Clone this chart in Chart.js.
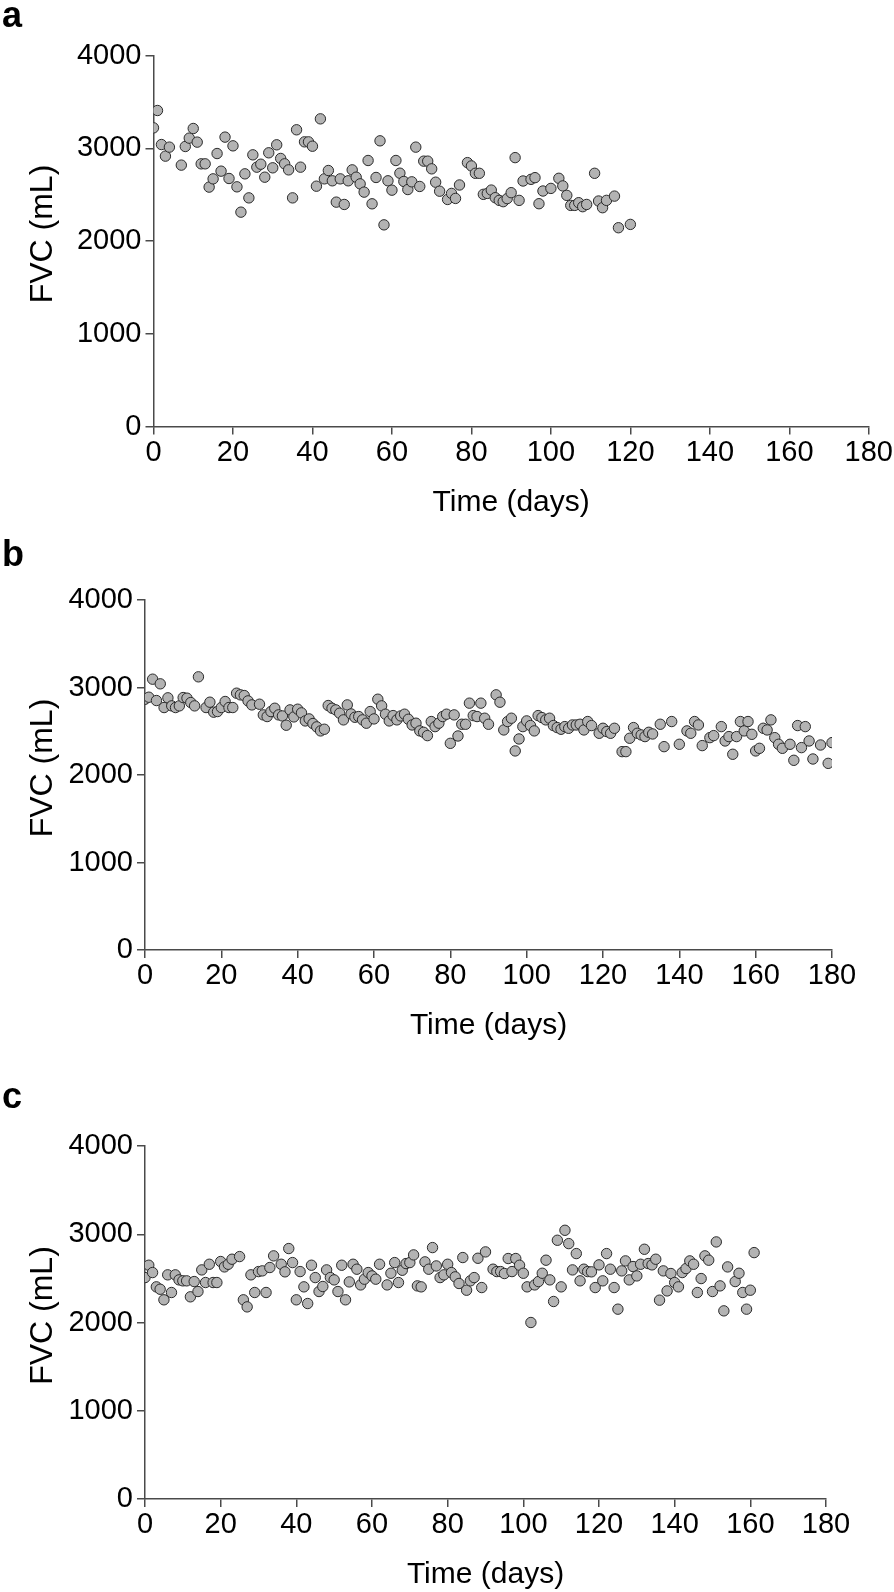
<!DOCTYPE html>
<html>
<head>
<meta charset="utf-8">
<title>FVC over time</title>
<script src="https://cdn.jsdelivr.net/npm/chart.js@4.4.1/dist/chart.umd.min.js"></script>
<style>
  html, body { margin: 0; padding: 0; background: #fff; }
  body { width: 894px; height: 1592px; position: relative; overflow: hidden; }
  canvas { position: absolute; left: 0; }
</style>
</head>
<body>
<canvas id="panelA" width="894" height="530" style="top:0px"></canvas>
<canvas id="panelB" width="894" height="530" style="top:530px"></canvas>
<canvas id="panelC" width="894" height="532" style="top:1060px"></canvas>
<script>
// Tick values shared by all three panels
const xTicks = [0, 20, 40, 60, 80, 100, 120, 140, 160, 180];
const yTicks = [0, 1000, 2000, 3000, 4000];

// Panel a
const daysA = [0, 1, 2, 3, 4, 7, 8, 9, 10, 11, 12, 13, 14, 15, 16, 17, 18, 19, 20, 21,
  22, 23, 24, 25, 26, 27, 28, 29, 30, 31, 32, 33, 34, 35, 36, 37, 38, 39, 40, 41,
  42, 43, 44, 45, 46, 47, 48, 49, 50, 51, 52, 53, 54, 55, 56, 57, 58, 59, 60, 61,
  62, 63, 64, 65, 66, 67, 68, 69, 70, 71, 72, 74, 75, 76, 77, 79, 80, 81, 82, 83,
  84, 85, 86, 87, 88, 89, 90, 91, 92, 93, 95, 96, 97, 98, 100, 102, 103, 104, 105, 106,
  107, 108, 109, 111, 112, 113, 114, 116, 117, 120];
const fvcA = [3220, 3407, 3040, 2915, 3012, 2818, 3019, 3109, 3213, 3066, 2832, 2832, 2581, 2670, 2943, 2753, 3120, 2674, 3026, 2584,
  2311, 2724, 2465, 2929, 2796, 2828, 2688, 2951, 2789, 3037, 2890, 2832, 2767, 2465, 3199, 2796, 3069, 3069, 3022, 2591,
  3317, 2670, 2760, 2649, 2419, 2670, 2394, 2649, 2767, 2688, 2616, 2527, 2868, 2401, 2685, 3080, 2174, 2649, 2548, 2868,
  2731, 2642, 2555, 2638, 3012, 2588, 2861, 2861, 2778, 2634, 2537, 2448, 2513, 2459, 2604, 2845, 2809, 2730, 2730, 2503,
  2513, 2549, 2467, 2438, 2424, 2457, 2521, 2899, 2438, 2647, 2665, 2683, 2402, 2539, 2567, 2676, 2594, 2492, 2384, 2384,
  2413, 2370, 2394, 2730, 2431, 2359, 2438, 2484, 2143, 2179];

// Panel b
const daysB = [0, 1, 2, 3, 4, 5, 6, 7, 8, 9, 10, 11, 12, 13, 14, 16, 17, 18, 19, 20,
  21, 22, 23, 24, 25, 26, 27, 28, 30, 31, 32, 33, 34, 35, 36, 37, 38, 39, 40, 41,
  42, 43, 44, 45, 46, 47, 48, 49, 50, 51, 52, 53, 54, 55, 56, 57, 58, 59, 60, 61,
  62, 63, 64, 65, 66, 67, 68, 69, 70, 71, 72, 73, 74, 75, 76, 77, 78, 79, 80, 81,
  82, 83, 84, 85, 86, 87, 88, 89, 90, 92, 93, 94, 95, 96, 97, 98, 99, 100, 101, 102,
  103, 104, 105, 106, 107, 108, 109, 110, 111, 112, 113, 114, 115, 116, 117, 119, 120, 121, 122, 123,
  125, 126, 127, 128, 129, 130, 131, 132, 133, 135, 136, 138, 140, 142, 143, 144, 145, 146, 148, 149,
  151, 152, 153, 154, 155, 156, 157, 158, 159, 160, 161, 162, 163, 164, 165, 166, 167, 169, 170, 171,
  172, 173, 174, 175, 177, 179, 180];
const fvcB = [2866, 2889, 3095, 2851, 3042, 2771, 2882, 2790, 2771, 2790, 2885, 2878, 2828, 2790, 3122, 2771, 2832, 2718, 2725, 2771,
  2840, 2771, 2771, 2935, 2916, 2908, 2847, 2801, 2809, 2687, 2668, 2725, 2763, 2687, 2675, 2569, 2744, 2664, 2752, 2710,
  2618, 2641, 2588, 2550, 2504, 2523, 2794, 2763, 2744, 2706, 2630, 2801, 2698, 2660, 2668, 2630, 2592, 2725, 2641, 2866,
  2790, 2695, 2618, 2679, 2630, 2675, 2695, 2637, 2572, 2592, 2504, 2488, 2450, 2611, 2553, 2592, 2668, 2695, 2362, 2687,
  2446, 2580, 2580, 2821, 2679, 2668, 2821, 2649, 2580, 2916, 2832, 2515, 2611, 2649, 2275, 2412, 2553, 2618, 2565, 2504,
  2679, 2656, 2630, 2649, 2565, 2542, 2523, 2553, 2534, 2572, 2572, 2580, 2515, 2611, 2565, 2477, 2534, 2496, 2477, 2534,
  2267, 2267, 2420, 2542, 2477, 2458, 2439, 2488, 2469, 2580, 2324, 2611, 2351, 2504, 2477, 2611, 2572, 2336, 2427, 2450,
  2553, 2389, 2439, 2237, 2439, 2611, 2504, 2611, 2465, 2275, 2305, 2534, 2515, 2630, 2427, 2351, 2305, 2351, 2168, 2565,
  2313, 2553, 2389, 2183, 2343, 2133, 2370];

// Panel c
const daysC = [0, 1, 2, 3, 4, 5, 6, 7, 8, 9, 10, 11, 12, 13, 14, 15, 16, 17, 18, 19,
  20, 21, 22, 23, 25, 26, 27, 28, 29, 30, 31, 32, 33, 34, 36, 37, 38, 39, 40, 41,
  42, 43, 44, 45, 46, 47, 48, 49, 50, 51, 52, 53, 54, 55, 56, 57, 58, 59, 60, 61,
  62, 64, 65, 66, 67, 68, 69, 70, 71, 72, 73, 74, 75, 76, 77, 78, 79, 80, 81, 82,
  83, 84, 85, 86, 87, 88, 89, 90, 92, 93, 94, 95, 96, 97, 98, 99, 100, 101, 102, 103,
  104, 105, 106, 107, 108, 109, 110, 111, 112, 113, 114, 115, 116, 117, 118, 119, 120, 121, 122, 123,
  124, 125, 126, 127, 128, 129, 130, 131, 132, 133, 134, 135, 136, 137, 138, 139, 140, 141, 142, 143,
  144, 145, 146, 147, 148, 149, 150, 151, 152, 153, 154, 156, 157, 158, 159, 160, 161];
const fvcC = [2509, 2649, 2566, 2404, 2377, 2257, 2540, 2340, 2540, 2483, 2472, 2472, 2291, 2464, 2351, 2596, 2453, 2660, 2453, 2453,
  2691, 2630, 2660, 2717, 2747, 2257, 2177, 2540, 2340, 2577, 2585, 2340, 2623, 2755, 2660, 2574, 2838, 2679, 2257, 2577,
  2404, 2215, 2649, 2509, 2351, 2408, 2596, 2509, 2483, 2351, 2649, 2257, 2460, 2660, 2604, 2426, 2491, 2566, 2528, 2491,
  2660, 2426, 2558, 2679, 2453, 2592, 2668, 2679, 2766, 2415, 2404, 2687, 2604, 2849, 2641, 2509, 2540, 2660, 2566, 2517,
  2442, 2736, 2366, 2472, 2509, 2728, 2396, 2800, 2604, 2577, 2577, 2555, 2725, 2577, 2725, 2649, 2558, 2404, 2000, 2426,
  2464, 2558, 2706, 2483, 2238, 2932, 2404, 3045, 2894, 2596, 2781, 2472, 2604, 2577, 2574, 2396, 2653, 2472, 2781, 2604,
  2396, 2151, 2585, 2698, 2483, 2634, 2528, 2660, 2830, 2668, 2653, 2717, 2253, 2585, 2358, 2555, 2453, 2404, 2566, 2611,
  2698, 2660, 2340, 2498, 2755, 2706, 2351, 2913, 2415, 2132, 2630, 2464, 2558, 2340, 2151, 2366, 2792];

const FONT = '"Liberation Sans", Arial, Helvetica, sans-serif';
const AXIS_COLOR = '#4a4a4a';

Chart.defaults.font.family = FONT;
Chart.defaults.color = '#000';

// panel letter and axis titles, drawn relative to the chart area
const panelText = {
  id: 'panelText',
  afterDraw(chart, args, opts) {
    const { ctx, chartArea } = chart;
    ctx.save();
    ctx.fillStyle = '#000';
    ctx.textBaseline = 'alphabetic';
    ctx.textAlign = 'left';
    ctx.font = 'bold 36px ' + FONT;
    ctx.fillText(opts.letter, 2, opts.letterY);

    ctx.font = '30px ' + FONT;
    ctx.textAlign = 'center';
    ctx.fillText('Time (days)', (chartArea.left + chartArea.right) / 2, chartArea.bottom + 84);

    ctx.font = '32px ' + FONT;
    ctx.translate(52, (chartArea.top + chartArea.bottom) / 2 - 7);
    ctx.rotate(-Math.PI / 2);
    ctx.fillText('FVC (mL)', 0, 0);
    ctx.restore();
  }
};

function makePanel(id, days, fvc, geo) {
  const points = days.map((d, i) => ({ x: d, y: fvc[i] }));
  return new Chart(document.getElementById(id), {
    type: 'scatter',
    data: {
      datasets: [{
        data: points,
        pointRadius: 5.2,
        pointHoverRadius: 5.2,
        pointBackgroundColor: '#b3b3b3',
        pointBorderColor: '#2a2a2a',
        pointBorderWidth: 1
      }]
    },
    plugins: [panelText],
    options: {
      responsive: false,
      animation: false,
      events: [],
      layout: { padding: { top: geo.top, right: geo.right, bottom: 0, left: 0 } },
      plugins: {
        legend: { display: false },
        tooltip: { enabled: false },
        panelText: { letter: geo.letter, letterY: geo.letterY }
      },
      scales: {
        x: {
          type: 'linear',
          min: xTicks[0],
          max: xTicks[xTicks.length - 1],
          afterBuildTicks: s => { s.ticks = xTicks.map(v => ({ value: v })); },
          afterFit: s => { s.height = geo.xHeight; },
          grid: { drawOnChartArea: false, drawTicks: true, tickLength: 8, color: AXIS_COLOR, lineWidth: 1.5 },
          border: { display: true, color: AXIS_COLOR, width: 1.5 },
          ticks: { font: { size: 29 }, color: '#000', padding: 1, maxRotation: 0, callback: v => String(v) }
        },
        y: {
          type: 'linear',
          min: yTicks[0],
          max: yTicks[yTicks.length - 1],
          afterBuildTicks: s => { s.ticks = yTicks.map(v => ({ value: v })); },
          afterFit: s => { s.width = geo.yWidth; },
          grid: { drawOnChartArea: false, drawTicks: true, tickLength: 8, color: AXIS_COLOR, lineWidth: 1.5 },
          border: { display: true, color: AXIS_COLOR, width: 1.5 },
          ticks: { font: { size: 29 }, color: '#000', padding: 4, callback: v => String(v) }
        }
      }
    }
  });
}

makePanel('panelA', daysA, fvcA, { letter: 'a', letterY: 27, top: 55.5, right: 25, yWidth: 153.5, xHeight: 103.5 });
makePanel('panelB', daysB, fvcB, { letter: 'b', letterY: 36, top: 70, right: 62, yWidth: 145, xHeight: 110 });
makePanel('panelC', daysC, fvcC, { letter: 'c', letterY: 48, top: 86, right: 68, yWidth: 145, xHeight: 93 });
</script>
</body>
</html>
